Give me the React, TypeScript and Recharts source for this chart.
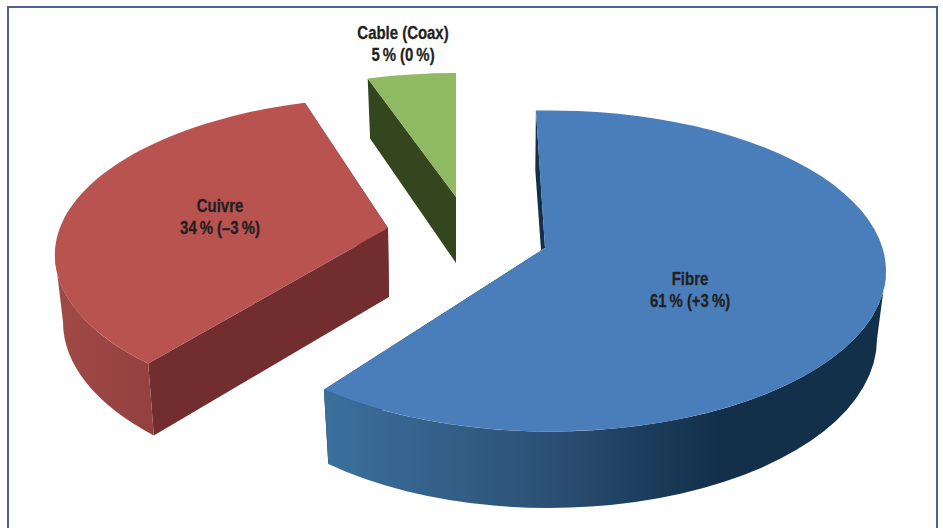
import { PieChart, Pie } from "recharts";

const sliceNames = ["Fibre", "Cuivre", "Cable (Coax)"];
const shareValues = [61, 34, 5];
const changeLabels = ["+3", "–3", "0"];

const pieData = sliceNames.map((name, i) => ({
  name,
  value: shareValues[i],
  change: changeLabels[i],
}));

// every slice is exploded and seen in perspective, so each has its own ellipses
const sliceShapes = [
  {
    top: { cx: 550, cy: 271, rx: 336, ry: 160.5 },
    bottom: { cx: 549, cy: 339, rx: 328, ry: 169 },
    apex: [545, 248],
    apexBottom: [541, 250],
    startFix: -2.4,
    endFix: 2.7,
    face: "#4a7ebb",
    cut: "#12304a",
    side: "url(#fibreSide)",
    label: [690, 285],
  },
  {
    top: { cx: 396, cy: 255, rx: 341, ry: 158 },
    bottom: { cx: 395, cy: 322, rx: 332, ry: 165 },
    apex: [388, 228],
    apexBottom: [389, 297],
    startFix: 7,
    endFix: 2.5,
    face: "#b95350",
    cut: "#722d2f",
    side: "url(#cuivreSide)",
    label: [220, 212],
  },
  {
    top: { cx: 456, cy: 233, rx: 341, ry: 160 },
    bottom: { cx: 456, cy: 295, rx: 332, ry: 162 },
    apex: [456, 197],
    apexBottom: [456, 263],
    startFix: 3,
    endFix: 0,
    face: "#8fb963",
    cut: "#34461e",
    side: "#34461e",
    label: [403, 39],
  },
];

type Ellipse = { cx: number; cy: number; rx: number; ry: number };

// angle in degrees, clockwise from 12 o'clock
const onEllipse = (e: Ellipse, deg: number) => {
  const r = (deg * Math.PI) / 180;
  return [e.cx + e.rx * Math.sin(r), e.cy - e.ry * Math.cos(r)];
};

const xy = (p: number[]) => `${p[0].toFixed(1)} ${p[1].toFixed(1)}`;

const arcTo = (e: Ellipse, from: number, to: number) => {
  const large = Math.abs(to - from) > 180 ? 1 : 0;
  const sweep = to > from ? 1 : 0;
  return `A ${e.rx} ${e.ry} 0 ${large} ${sweep} ${xy(onEllipse(e, to))}`;
};

function Slice3D(props: any) {
  const geo = sliceShapes[props.index ?? sliceNames.indexOf(props.name)];
  const from = 90 - props.startAngle + geo.startFix;
  const to = 90 - props.endAngle + geo.endFix;
  const { top, bottom, apex, apexBottom } = geo;

  const cutFace = (deg: number) =>
    `M ${xy(onEllipse(top, deg))} L ${xy(apex)} L ${xy(apexBottom)} L ${xy(onEllipse(bottom, deg))} Z`;

  const sideFrom = Math.max(from, 90);
  const sideTo = Math.min(to, 270);

  return (
    <g>
      <path d={cutFace(to)} fill={geo.cut} />
      <path d={cutFace(from)} fill={geo.cut} />
      {sideTo > sideFrom && (
        <path
          d={`M ${xy(onEllipse(top, sideFrom))} ${arcTo(top, sideFrom, sideTo)} L ${xy(
            onEllipse(bottom, sideTo)
          )} ${arcTo(bottom, sideTo, sideFrom)} Z`}
          fill={geo.side}
        />
      )}
      <path
        d={`M ${xy(apex)} L ${xy(onEllipse(top, from))} ${arcTo(top, from, to)} Z`}
        fill={geo.face}
      />
    </g>
  );
}

function SliceLabel(props: any) {
  const item = pieData[props.index];
  const [x, y] = sliceShapes[props.index].label;
  // no narrow face is installed, so the bold sans is squeezed to the condensed width
  return (
    <text
      transform={`translate(${x} ${y}) scale(0.83 1)`}
      textAnchor="middle"
      fontFamily="'Liberation Sans', sans-serif"
      fontWeight="bold"
      fontSize={18}
      fill="#231f20"
      stroke="#231f20"
      strokeWidth={0.3}
    >
      <tspan x={0}>{item.name}</tspan>
      <tspan x={0} dy={22}>
        {`${item.value}\u2009% (${item.change}\u2009%)`}
      </tspan>
    </text>
  );
}

export default function App() {
  return (
    <div style={{ position: "absolute", left: 0, top: 0, width: 943, height: 528, overflow: "hidden", background: "#fff" }}>
      {/* frame, open at the bottom */}
      <div
        style={{
          position: "absolute",
          left: 7,
          top: 6,
          width: 927,
          height: 540,
          borderLeft: "2px solid #4d6290",
          borderTop: "2px solid #4d6290",
          borderRight: "2px solid #4d6290",
        }}
      />
      <div style={{ position: "absolute", left: 0, top: 0 }}>
        <PieChart width={943} height={528} margin={{ top: 0, right: 0, bottom: 0, left: 0 }}>
          <defs>
            <linearGradient id="fibreSide" gradientUnits="userSpaceOnUse" x1="324" y1="0" x2="886" y2="0">
              <stop offset="0" stopColor="#3b709c" />
              <stop offset="0.2" stopColor="#34618a" />
              <stop offset="0.4" stopColor="#2c5075" />
              <stop offset="0.55" stopColor="#1e3f60" />
              <stop offset="0.7" stopColor="#12304a" />
              <stop offset="1" stopColor="#12304a" />
            </linearGradient>
            <linearGradient id="cuivreSide" gradientUnits="userSpaceOnUse" x1="55" y1="0" x2="155" y2="0">
              <stop offset="0" stopColor="#a04a47" />
              <stop offset="1" stopColor="#934040" />
            </linearGradient>
          </defs>
          <Pie
            data={pieData}
            dataKey="value"
            nameKey="name"
            cx={471}
            cy={264}
            outerRadius={200}
            startAngle={90}
            endAngle={-270}
            stroke="none"
            isAnimationActive={false}
            shape={Slice3D}
            label={SliceLabel}
            labelLine={false}
          />
        </PieChart>
      </div>
    </div>
  );
}
